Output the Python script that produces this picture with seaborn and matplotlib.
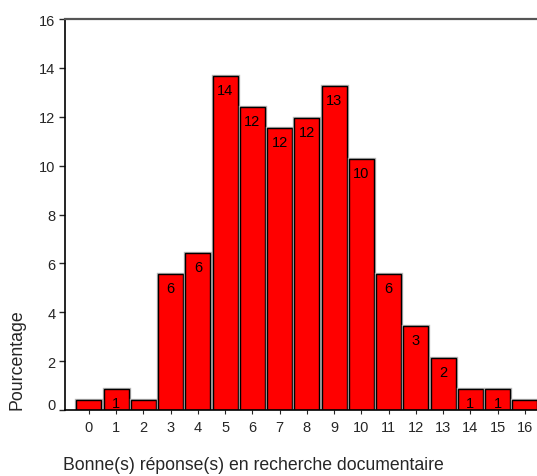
import numpy as np
import pandas as pd
import matplotlib
matplotlib.use('Agg')
import matplotlib.pyplot as plt
import matplotlib.patheffects as pe
import matplotlib.transforms as mtransforms
import seaborn as sns

# Nombre de bonnes réponses (0 à 16) et effectifs (N = 234)
reponses = list(range(17))
effectifs = [1, 2, 1, 13, 15, 32, 29, 27, 28, 31, 24, 13, 8, 5, 2, 2, 1]
etiquettes_y = [0, 2, 4, 6, 8, 10, 12, 14, 16]

df = pd.DataFrame({'reponse': [str(r) for r in reponses], 'effectif': effectifs})
df['pourcentage'] = df['effectif'] / df['effectif'].sum() * 100

sns.set_style('white')
plt.rcParams['font.family'] = ['Liberation Sans', 'DejaVu Sans']

fig = plt.figure(figsize=(5.37, 4.77), dpi=100)
ax = fig.add_axes([65 / 537, 1 - 411 / 477, 1 - 65 / 537, (411 - 20) / 477])

sns.barplot(data=df, x='reponse', y='pourcentage', color='#ff0000', saturation=1,
            edgecolor='black', linewidth=1, width=0.92, ax=ax)

for p in ax.patches:
    p.set_path_effects([pe.Stroke(linewidth=2.4, foreground='#b4b4b4'), pe.Normal()])

# Étiquettes dans les barres (pourcentage arrondi)
for i, v in enumerate(df['pourcentage']):
    lab = int(round(v))
    if lab > 0:
        ax.annotate(str(lab), (i, v), xytext=(0, -5), textcoords='offset points',
                    ha='center', va='top', fontsize=10.5, color='black')

ax.set_xlim(-0.88, 16.45)
ax.set_ylim(0, 16)
ax.set_yticks(etiquettes_y)
ax.tick_params(axis='y', direction='out', length=4, width=1, labelsize=10.5, pad=3, left=True)
ax.tick_params(axis='x', direction='out', length=3, width=0.8, labelsize=10.5, pad=4, bottom=True)

# le "0" de l'axe vertical est légèrement remonté
lab0 = ax.get_yticklabels()[0]
lab0.set_transform(lab0.get_transform() + mtransforms.ScaledTranslation(0, 6 / 100, fig.dpi_scale_trans))

ax.set_xlabel('')
ax.set_ylabel('')
for s in ['left', 'bottom']:
    ax.spines[s].set_color('black')
    ax.spines[s].set_linewidth(1.2)
ax.spines['top'].set_color('#555555')
ax.spines['top'].set_linewidth(1.6)
ax.spines['right'].set_visible(False)

fig.text(17 / 537, 1 - 360 / 477, 'Pourcentage', rotation=90, ha='center', va='center', fontsize=12.8)
fig.text(63 / 537, 1 - 466 / 477, 'Bonne(s) réponse(s) en recherche documentaire',
         ha='left', va='center', fontsize=12.7)

plt.savefig('out.png', dpi=100)
